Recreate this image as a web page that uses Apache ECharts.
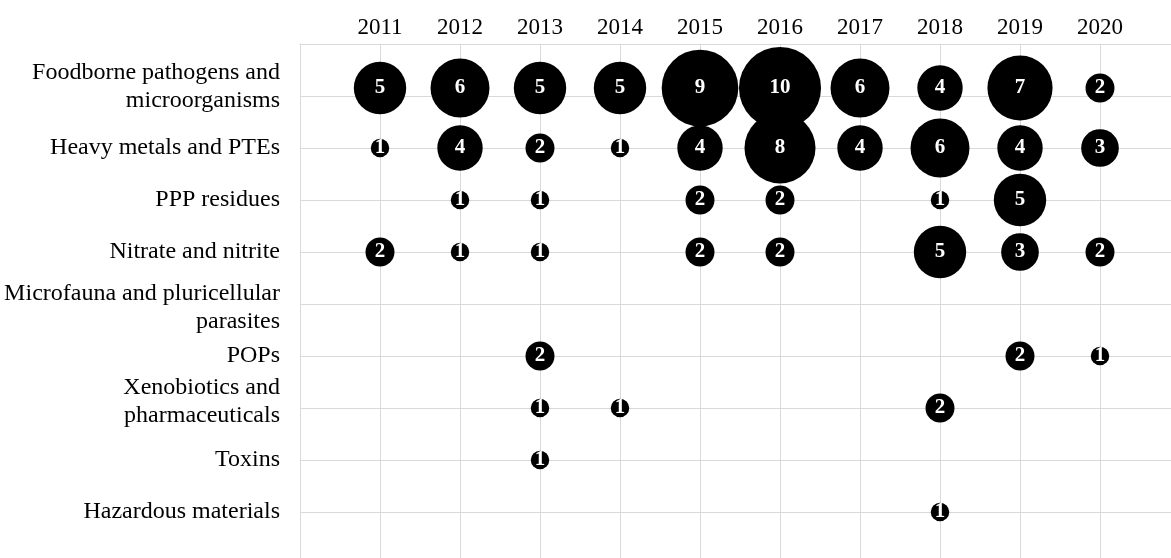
<!DOCTYPE html>
<html>
<head>
<meta charset="utf-8">
<script src="https://cdn.jsdelivr.net/npm/echarts@6/dist/echarts.min.js"></script>
<style>
html,body{margin:0;padding:0;background:#fff;}
#chart{width:1171px;height:558px;}
</style>
</head>
<body>
<div id="chart"></div>
<script>
// ---- data ----
var years = [2011, 2012, 2013, 2014, 2015, 2016, 2017, 2018, 2019, 2020];
var categories = [
  'Foodborne pathogens and\nmicroorganisms',
  'Heavy metals and PTEs',
  'PPP residues',
  'Nitrate and nitrite',
  'Microfauna and pluricellular\nparasites',
  'POPs',
  'Xenobiotics and\npharmaceuticals',
  'Toxins',
  'Hazardous materials'
];
var foodborne   = [5, 6, 5, 5, 9, 10, 6, 4, 7, 2];
var heavyMetals = [1, 4, 2, 1, 4, 8, 4, 6, 4, 3];
var pppResidues = [null, 1, 1, null, 2, 2, null, 1, 5, null];
var nitrate     = [2, 1, 1, null, 2, 2, null, 5, 3, 2];
var microfauna  = [null, null, null, null, null, null, null, null, null, null];
var pops        = [null, null, 2, null, null, null, null, null, 2, 1];
var xenobiotics = [null, null, 1, 1, null, null, null, 2, null, null];
var toxins      = [null, null, 1, null, null, null, null, null, null, null];
var hazardous   = [null, null, null, null, null, null, null, 1, null, null];
var rows = [foodborne, heavyMetals, pppResidues, nitrate, microfauna, pops, xenobiotics, toxins, hazardous];

// ---- build ----
var data = [];
rows.forEach(function (row, r) {
  row.forEach(function (v, i) {
    if (v == null) return;
    var item = { value: [years[i], r + 1, v] };
    if (r === 0) item.symbolOffset = [0, -8];
    data.push(item);
  });
});

var FONT = '"Liberation Serif", "Times New Roman", serif';
var gridColor = '#d9d9d9';

var chart = echarts.init(document.getElementById('chart'), null, { renderer: 'canvas' });
chart.setOption({
  backgroundColor: '#ffffff',
  animation: false,
  grid: { left: 300, top: 44, width: 880, height: 520, containLabel: false, outerBoundsMode: 'none' },
  xAxis: {
    type: 'value',
    position: 'top',
    min: 2010,
    max: 2021,
    interval: 1,
    axisLine: { show: true, lineStyle: { color: gridColor, width: 1 } },
    axisTick: { show: false },
    splitLine: { show: true, lineStyle: { color: gridColor, width: 1 } },
    axisLabel: {
      margin: 5,
      fontFamily: FONT,
      fontSize: 23,
      color: '#000',
      formatter: function (v) {
        return (v >= years[0] && v <= years[years.length - 1]) ? String(v) : '';
      }
    }
  },
  yAxis: {
    type: 'value',
    inverse: true,
    min: 0,
    max: 10,
    interval: 1,
    axisLine: { show: true, lineStyle: { color: gridColor, width: 1 } },
    axisTick: { show: false },
    splitLine: { show: true, lineStyle: { color: gridColor, width: 1 } },
    axisLabel: {
      margin: 20,
      fontFamily: FONT,
      fontSize: 24,
      color: '#000',
      align: 'right',
      formatter: function (v) {
        var c = categories[v - 1];
        if (!c) return '';
        var parts = c.split('\n');
        var s = parts.map(function (p) { return '{t|' + p + '}'; }).join('\n');
        if (v === 1) s += '\n{s1| }';
        if (v === 5) s = '{s3| }\n' + s;
        if (v === 7) s += '\n{s2| }';
        return s;
      },
      rich: {
        t: { fontFamily: FONT, fontSize: 24, lineHeight: 28, color: '#000', align: 'right' },
        s1: { fontSize: 1, lineHeight: 19 },
        s2: { fontSize: 1, lineHeight: 12 },
        s3: { fontSize: 1, lineHeight: 8 }
      }
    }
  },
  series: [{
    type: 'scatter',
    data: data,
    symbol: 'circle',
    symbolSize: function (val) { return 18.5 * Math.pow(val[2], 0.647); },
    itemStyle: { color: '#000000', opacity: 1 },
    label: {
      show: true,
      position: 'inside',
      formatter: function (p) { return String(p.value[2]); },
      color: '#ffffff',
      fontFamily: FONT,
      fontWeight: 'bold',
      fontSize: 21
    },
    emphasis: { disabled: true }
  }]
});
</script>
</body>
</html>
